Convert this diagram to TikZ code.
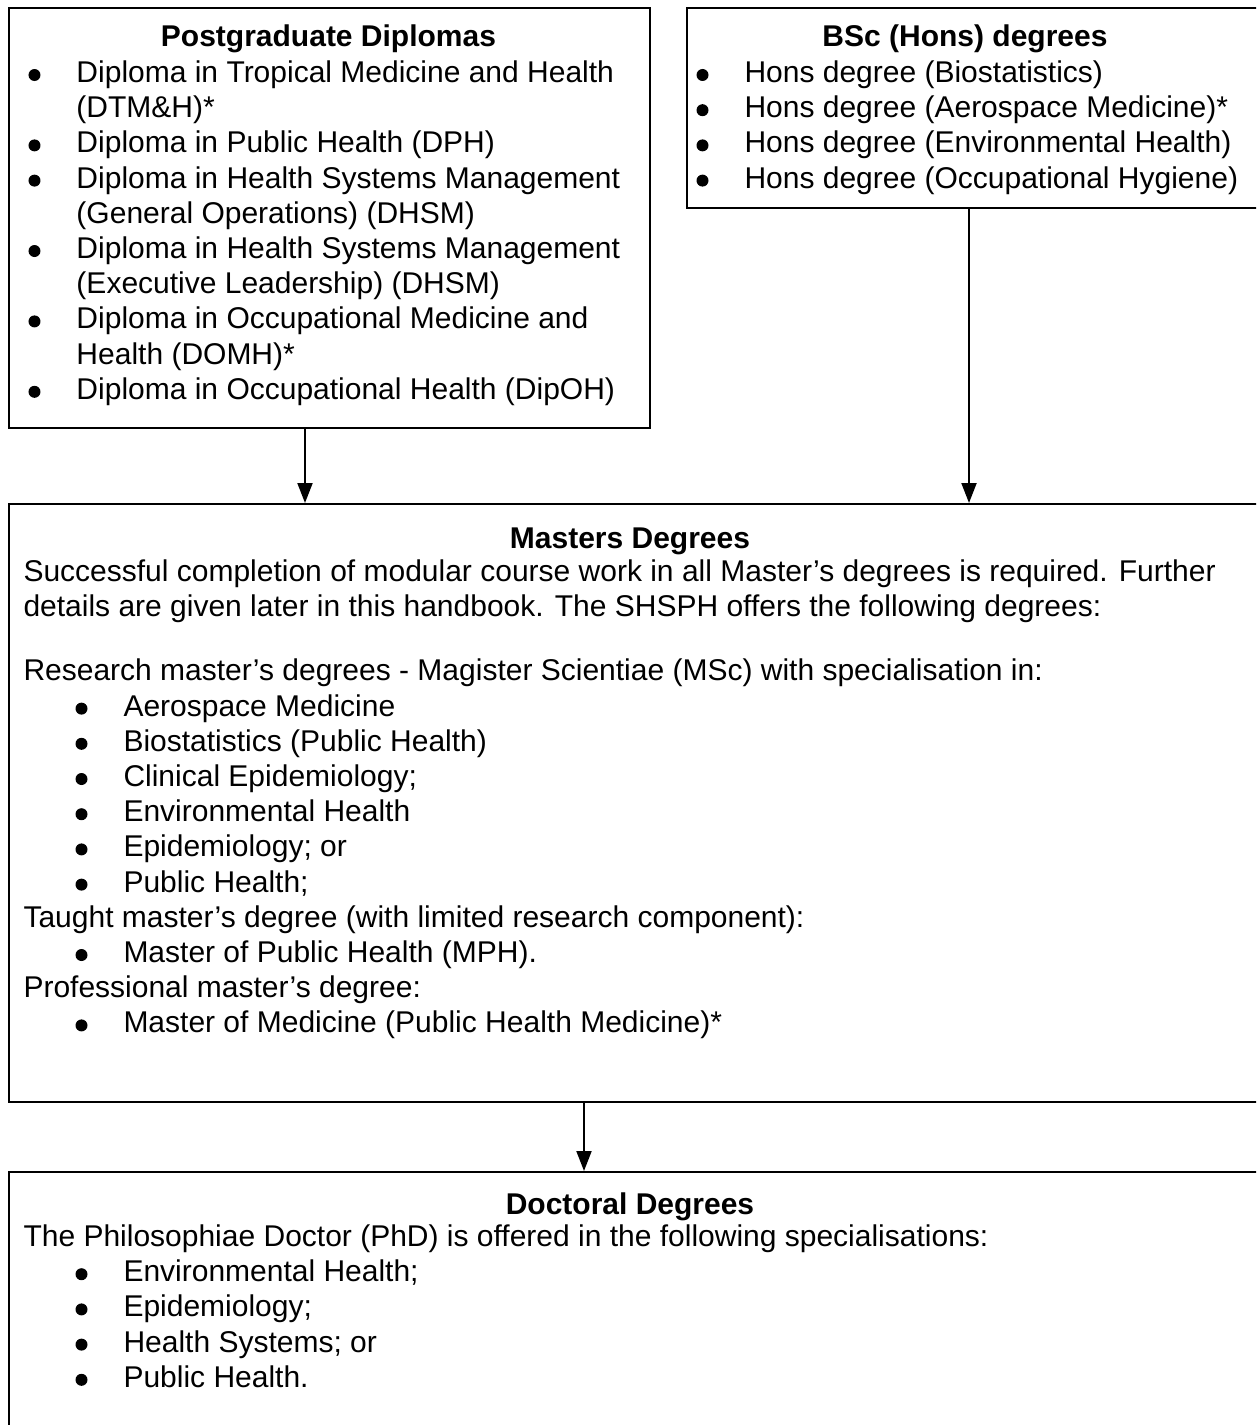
\documentclass[tikz,border=0pt]{standalone}
\usepackage{fontspec}
\setmainfont{Liberation Sans}
\usetikzlibrary{arrows.meta, positioning, calc}

\newlength{\px}
\setlength{\px}{0.4pt}
\newcommand{\bmark}{\tikz[baseline=-7.5\px]\fill (0,0) circle[radius=6\px];}
\newcommand{\bl}[1]{\makebox[48\px][l]{\bmark}#1}
\newcommand{\cl}[1]{\hspace*{48\px}#1}
\newcommand{\ibl}[1]{\hspace*{52\px}\bl{#1}}
\newcommand{\firstline}{\rule{0pt}{24\px}}

\begin{document}
\begin{tikzpicture}[
  x=0.4pt, y=-0.4pt,
  box/.style={draw, line width=0.8pt, anchor=north west, inner sep=0pt},
  head/.style={font=\fontsize{12}{14.08}\selectfont\bfseries, inner sep=0pt, anchor=base},
  body/.style={font=\fontsize{12}{14.08}\selectfont, align=left, inner sep=0pt, anchor=north west},
  arrow/.style={-{Triangle[length=8pt, width=6pt]}, line width=0.8pt}
]
  \useasboundingbox (0,0) rectangle (1256,1425);
  \clip (0,0) rectangle (1256,1425);

  % boxes
  \node[box, minimum width=641\px, minimum height=420\px] (dip) at (8,7) {};
  \node[box, minimum width=572\px, minimum height=200\px] (bsc) at (686,7) {};
  \node[box, minimum width=1250\px, minimum height=598\px] (mas) at (8,503) {};
  \node[box, minimum width=1250\px, minimum height=269\px] (doc) at (8,1171) {};

  % titles
  \node[head] (diptitle) at (328.5,47) {Postgraduate Diplomas};
  \node[head] (bsctitle) at (965,47) {BSc (Hons) degrees};
  \node[head] (mastitle) at (630,548) {Masters Degrees};
  \node[head] (doctitle) at (630,1214) {Doctoral Degrees};

  % contents
  \node[body] (dipbody) at (28,58) {%
    \firstline\bl{Diploma in Tropical Medicine and Health}\\
    \cl{(DTM\&H)*}\\
    \bl{Diploma in Public Health (DPH)}\\
    \bl{Diploma in Health Systems Management}\\
    \cl{(General Operations) (DHSM)}\\
    \bl{Diploma in Health Systems Management}\\
    \cl{(Executive Leadership) (DHSM)}\\
    \bl{Diploma in Occupational Medicine and}\\
    \cl{Health (DOMH)*}\\
    \bl{Diploma in Occupational Health (DipOH)}};
  \node[body] (bscbody) at (696,58) {%
    \firstline\bl{Hons degree (Biostatistics)}\\
    \bl{Hons degree (Aerospace Medicine)*}\\
    \bl{Hons degree (Environmental Health)}\\
    \bl{Hons degree (Occupational Hygiene)}};
  \node[body] (masbody) at (23,557) {%
    \firstline Successful completion of modular course work in all Master’s degrees is required. Further\\
    details are given later in this handbook. The SHSPH offers the following degrees:\\[29\px]
    Research master’s degrees - Magister Scientiae (MSc) with specialisation in:\\
    \ibl{Aerospace Medicine}\\
    \ibl{Biostatistics (Public Health)}\\
    \ibl{Clinical Epidemiology;}\\
    \ibl{Environmental Health}\\
    \ibl{Epidemiology; or}\\
    \ibl{Public Health;}\\
    Taught master’s degree (with limited research component):\\
    \ibl{Master of Public Health (MPH).}\\
    Professional master’s degree:\\
    \ibl{Master of Medicine (Public Health Medicine)*}};
  \node[body] (docbody) at (23,1222) {%
    \firstline The Philosophiae Doctor (PhD) is offered in the following specialisations:\\
    \ibl{Environmental Health;}\\
    \ibl{Epidemiology;}\\
    \ibl{Health Systems; or}\\
    \ibl{Public Health.}};

  % connectors
  \draw[arrow] ([xshift=-9.8pt]dip.south) -- ([xshift=-9.8pt]dip.south |- mas.north);
  \draw[arrow] ([xshift=-1.6pt]bsc.south) -- ([xshift=-1.6pt]bsc.south |- mas.north);
  \draw[arrow] ([xshift=-20pt]mas.south) -- ([xshift=-20pt]mas.south |- doc.north);
\end{tikzpicture}
\end{document}
